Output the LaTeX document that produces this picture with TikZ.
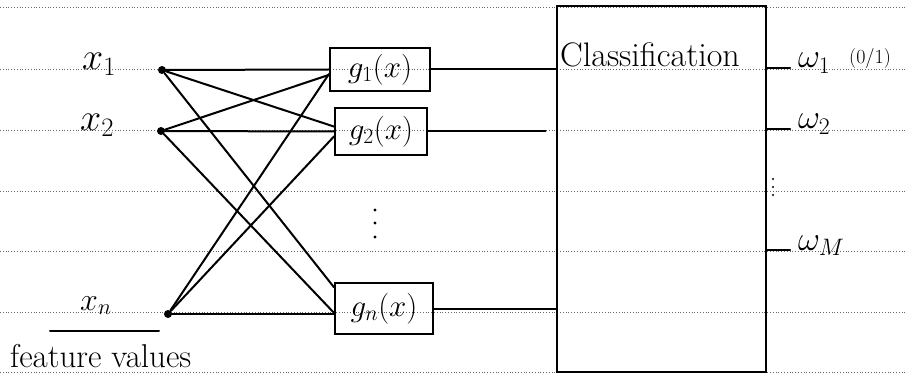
\RequirePackage{fix-cm}
\documentclass[tikz,border=0pt]{standalone}
\usetikzlibrary{calc}
\begin{document}
\begin{tikzpicture}[x=1pt, y=-1pt,
  stroke/.style={line width=2pt, line cap=round, line join=round},
  ruled/.style={black!60, line width=0.7pt, dash pattern=on 1pt off 1.8pt},
  inpt/.style={circle, fill, inner sep=0pt, minimum size=8pt},
  gbox/.style={draw, line width=2pt, inner sep=0pt, font=\fontsize{31}{34}\selectfont},
  lbl/.style={anchor=base west, inner sep=0pt, font=\fontsize{34}{38}\selectfont},
  outlbl/.style={anchor=base west, inner sep=0pt, font=\fontsize{34}{38}\selectfont},
  small/.style={anchor=base west, inner sep=0pt, font=\fontsize{20}{22}\selectfont}]
\useasboundingbox (0,0) rectangle (907,382);

% ruled paper lines
\foreach \y in {7,69,130,191,251,312,372}
  \draw[ruled] (0,\y) -- (907,\y);

% inputs
\node[inpt] (x1) at (162,70) {};
\node[inpt] (x2) at (161,131) {};
\node[inpt] (xn) at (168,314) {};
\node[lbl, font=\fontsize{38}{40}\selectfont] (lx1) at (82,70) {$x_1$};
\node[lbl, font=\fontsize{38}{40}\selectfont] (lx2) at (80,131) {$x_2$};
\node[lbl, font=\fontsize{32}{36}\selectfont] (lxn) at (80,310) {$x_n$};
\draw[stroke] (50,331) -- (159,331);
\node[lbl, font=\fontsize{33}{36}\selectfont] (fv) at (10,367) {feature values};

% discriminant functions
\node[gbox, minimum width=100pt, minimum height=43pt] (g1) at (380,69.5) {$g_1(x)$};
\node[gbox, minimum width=92pt, minimum height=47pt] (g2) at (381,131.5) {$g_2(x)$};
\node[gbox, minimum width=98pt, minimum height=51pt] (gn) at (384,308.5) {$g_n(x)$};
\foreach \y in {210,223,237}
  \fill (375,\y) circle (1.6pt);

% classification block
\node[draw, line width=2pt, minimum width=209pt, minimum height=366pt, inner sep=0pt] (cls) at (661,189) {};
\node[lbl] (clstxt) at (560,67) {Classification};

% fully connected inputs
\draw[stroke] (x1) -- (g1.west);
\draw[stroke] (x1) -- (g2.174);
\draw[stroke] (x1) -- ($(gn.north west)!0.1!(gn.south west)$);
\draw[stroke] (x2) -- (g1.186);
\draw[stroke] (x2) -- (g2.west);
\draw[stroke] (x2) -- (gn.185);
\draw[stroke] (xn) -- (g1.185);
\draw[stroke] (xn) -- (g2.186);
\draw[stroke] (xn) -- (xn -| gn.west);

% into the classifier
\draw[stroke] (g1.east) -- (g1.east -| cls.west);
\draw[stroke, shorten >=10pt] (g2.east) -- (g2.east -| cls.west);
\draw[stroke] (gn.east) -- (gn.east -| cls.west);

% class outputs
\node[outlbl] (w1) at (798,68) {$\omega_1$};
\node[outlbl] (w2) at (798,129) {$\omega_2$};
\node[outlbl] (wm) at (798,250) {$\omega_M$};
\node[small] (w1note) at (849,64) {(0/1)};
\draw[stroke] (cls.east |- w1.base) -- ($(w1.base west)+(-8,0)$);
\draw[stroke] (cls.east |- w2.base) -- ($(w2.base west)+(-8,0)$);
\draw[stroke] (cls.east |- wm.base) -- ($(wm.base west)+(-8,0)$);
\foreach \y in {179,187,195}
  \fill (773,\y) circle (1.2pt);
\end{tikzpicture}
\end{document}
